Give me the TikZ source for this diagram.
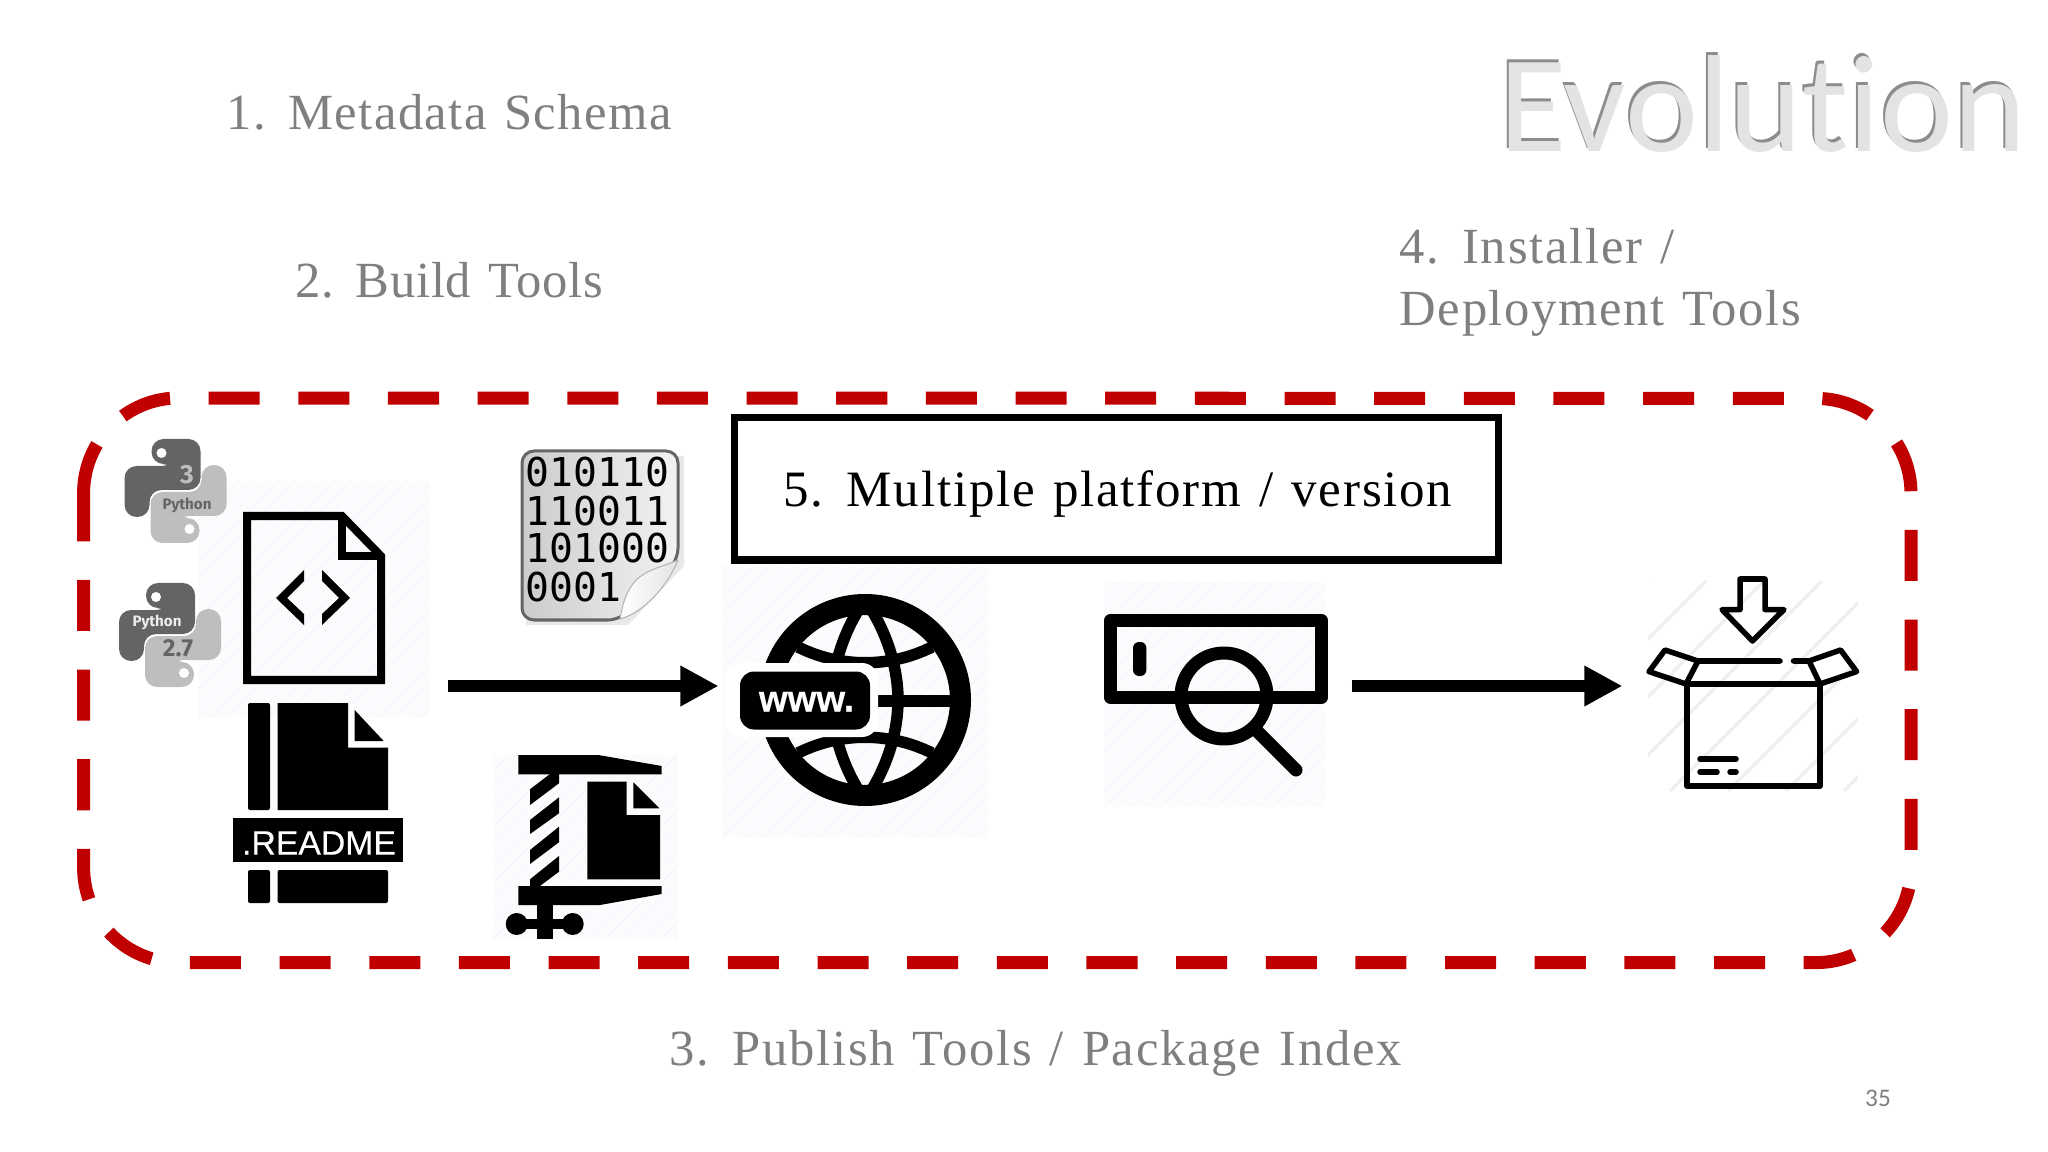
\documentclass[tikz,border=0pt]{standalone}
\usepackage{fontspec}
\setmainfont[WordSpace=1.25,LetterSpace=3.5]{Liberation Serif}
\newfontfamily\titlefont[Ligatures=NoCommon]{Carlito}
\newfontfamily\bitfont{DejaVu Sans Mono}
\newfontfamily\pyfont{Fira Sans}
\newfontfamily\readmefont[FakeBold=0.4]{Liberation Sans}
\usetikzlibrary{arrows.meta, positioning, calc}

\definecolor{dashred}{HTML}{C00000}
\definecolor{labelgray}{HTML}{7F7F7F}
\definecolor{pydark}{HTML}{646464}
\definecolor{pylight}{HTML}{BEBEBE}
\definecolor{palefill}{HTML}{FCFBFD}
\definecolor{palehatch}{HTML}{F5F4F8}
\definecolor{boxhatch}{HTML}{EFEEF3}

\tikzset{
  slidetext/.style={font=\fontsize{14.4}{17}\selectfont, text=labelgray, inner sep=0pt, anchor=base west},
  bitline/.style={font=\bitfont\fontsize{11.3}{13}\selectfont, inner sep=0pt, anchor=base west},
  bigarrow/.style={line width=0.126cm, -{Triangle[length=0.38cm,width=0.38cm]}},
  iconline/.style={line width=0.055cm, line cap=round, line join=round},
  pics/pysnake/.style={code={
    \fill[#1, rounded corners=0.12cm] (-24,-27) -- (-24,-52) -- (25,-52) -- (25,-1) -- (-26,-1) -- (-26,26) -- (-51,26) -- (-51,-25) -- (-1,-25) -- (-1,-27) -- cycle;
    \fill[white] (-14,-38) circle (5);
  }}
}

\begin{document}
\begin{tikzpicture}[x=0.01cm, y=-0.01cm, line join=round]
  \useasboundingbox (0,0) rectangle (2048,1152);

  % faint backgrounds behind the icons
  \foreach \xa/\ya/\xb/\yb in {198/481/430/717, 493/755/678/939, 722/567/988/837, 1104/582/1325/807}{
    \begin{scope}
      \clip (\xa,\ya) rectangle (\xb,\yb);
      \fill[palefill] (\xa,\ya) rectangle (\xb,\yb);
      \foreach \k in {0,14,...,560}
        \draw[palehatch, line width=0.01cm] (\xa-280+\k,\yb) -- ++(280,-280);
    \end{scope}
  }
  \begin{scope}
    \clip (1648,579) rectangle (1858,791);
    \foreach \k in {0,58,...,464}
      \draw[boxhatch, line width=0.035cm] (1648-210+\k,791) -- ++(210,-210);
  \end{scope}

  % title, pressed into the slide
  \node[inner sep=0pt, anchor=base west, font=\titlefont\fontsize{39.3}{44}\selectfont, text=gray!90] (titleShade) at (1497,149) {Evolution};
  \node[inner sep=0pt, anchor=base west, font=\titlefont\fontsize{39.3}{44}\selectfont, text=gray!22] (titleFace) at (1499,152) {Evolution};

  \node[slidetext] (metaLabel) at (226,130) {\addfontfeature{LetterSpace=2.8}1. Metadata Schema};
  \node[slidetext] (buildLabel) at (295,298) {\addfontfeature{LetterSpace=1.5}2. Build Tools};
  \node[slidetext] (installLabel) at (1399,264) {4. Installer /};
  \node[slidetext] (deployLabel) at (1399,326) {\addfontfeature{LetterSpace=3.2}Deployment Tools};
  \node[slidetext] (publishLabel) at (669,1065) {3. Publish Tools / Package Index};
  \node[inner sep=0pt, text=labelgray, font=\titlefont\fontsize{7.2}{9}\selectfont] (pageNo) at (1878,1098) {35};

  % red frame
  \draw[dashred, line width=0.13cm, dash pattern=on 0.51cm off 0.386cm]
    (83.6,493) arc[start angle=180, end angle=270, radius=95] -- (1816,398.4)
    arc[start angle=270, end angle=360, radius=95] -- (1911,867.6)
    arc[start angle=0, end angle=90, radius=95] -- (178.6,962.6)
    arc[start angle=90, end angle=180, radius=95] -- cycle;

  % platform box
  \draw[line width=0.07cm, line join=miter] (734.5,417.5) rectangle (1498,560);
  \node[slidetext, text=black, font=\fontsize{14.5}{17}\selectfont] (platformLabel) at (783,507) {5. Multiple platform / version};

  % python logos
  \pic at (175.5,491) {pysnake=pydark};
  \pic[rotate=180] at (175.5,491) {pysnake=pylight};
  \node[inner sep=0pt, text=pylight, font=\pyfont\bfseries\fontsize{7.5}{9}\selectfont] (pyThree) at (187,475) {3};
  \node[inner sep=0pt, text=pydark, font=\pyfont\bfseries\fontsize{4.3}{6}\selectfont] (pyThreeName) at (187,505) {Python};
  \pic at (170,635) {pysnake=pydark};
  \pic[rotate=180] at (170,635) {pysnake=pylight};
  \node[inner sep=0pt, text=white!85!gray, font=\pyfont\bfseries\fontsize{4.3}{6}\selectfont] (pyTwoName) at (157,622) {Python};
  \node[inner sep=0pt, text=pydark, font=\pyfont\bfseries\fontsize{7}{9}\selectfont] (pyTwo) at (178,648) {2.7};

  % code file
  \draw[line width=0.08cm, line join=miter] (247,516) -- (342,516) -- (381,556) -- (381,680) -- (247,680) -- cycle;
  \draw[line width=0.08cm, line join=miter] (342,516) -- (342,556) -- (381,556);
  \fill (304,570) -- (276,598) -- (304,625) -- (304,614) -- (287,598) -- (304,581) -- cycle;
  \fill (322,570) -- (350,598) -- (322,625) -- (322,614) -- (339,598) -- (322,581) -- cycle;

  % readme file
  \fill[rounded corners=0.02cm] (248,703) rectangle (270,810);
  \fill (277.5,703) -- (348,703) -- (348,747.5) -- (388,747.5) -- (388,810) -- (277.5,810) -- cycle;
  \fill (354.6,710) -- (383.7,741) -- (354.6,741) -- cycle;
  \fill (233,818) rectangle (403,862);
  \node[inner sep=0pt, text=white, font=\readmefont\fontsize{9.6}{12}\selectfont] (readmeLabel) at (319,843) {.README};
  \fill[rounded corners=0.02cm] (248,870) rectangle (270,903);
  \fill[rounded corners=0.02cm] (277.5,870) rectangle (388,903);

  % binary file
  \fill[gray!18] (526,456) -- (684,456) -- (684,566) -- (628,625) -- (526,625) -- cycle;
  \shade[left color=gray!40, right color=gray!10, draw=gray!80!black, line width=0.03cm, rounded corners=0.12cm]
    (522,451) -- (678,451) -- (678,560) -- (620,620) -- (522,620) -- cycle;
  \node[bitline] (bitsA) at (525,487) {010110};
  \node[bitline] (bitsB) at (525,525) {110011};
  \node[bitline] (bitsC) at (525,563) {101000};
  \node[bitline] (bitsD) at (525,601) {0001};
  \shade[left color=white, right color=gray!22, draw=gray!60, line width=0.01cm]
    (678,560) .. controls (650,572) and (628,570) .. (620,619) .. controls (645,612) and (668,585) .. (678,560);

  % clamp
  \fill (518.3,755) -- (598.3,755) -- (661.7,766) -- (661.7,774.3) -- (518.3,774.3) -- cycle;
  \fill (518.3,886) -- (661.7,886) -- (661.7,894) -- (600,905) -- (518.3,905) -- cycle;
  \fill (550,774) -- (530,789.3) -- (530,805) -- (559,783.3) -- (559,774) -- cycle;
  \fill (530,820) -- (559,797.3) -- (559,813.3) -- (530,834) -- cycle;
  \fill (530,850) -- (559,826.7) -- (559,842.3) -- (530,864) -- cycle;
  \fill (530,879.3) -- (559,856) -- (559,871.7) -- (540,886) -- (530,886) -- cycle;
  \fill (587.3,781.7) -- (626.7,781.7) -- (626.7,815) -- (660,815) -- (660,879.3) -- (587.3,879.3) -- cycle;
  \fill (633.3,782.3) -- (659.3,808.3) -- (633.3,808.3) -- cycle;
  \fill (536.7,905) rectangle (552.7,939);
  \fill (516.7,919) rectangle (572.7,929);
  \fill (516.7,924) circle (11);
  \fill (572.7,924) circle (11);

  % globe
  \draw[line width=0.21cm] (865,700) circle (95.5);
  \begin{scope}[line width=0.115cm]
    \draw (865,600) .. controls (885,628) and (898,665) .. (898,700) .. controls (898,735) and (885,772) .. (865,800);
    \draw (865,600) .. controls (845,628) and (832,665) .. (832,700) .. controls (832,735) and (845,772) .. (865,800);
    \draw (798,647) .. controls (840,668) and (890,668) .. (932,647);
    \draw (798,753) .. controls (840,732) and (890,732) .. (932,753);
    \draw (878,701) -- (950,701);
  \end{scope}
  \fill[white, rounded corners=0.16cm] (725,663) rectangle (878,737);
  \fill[rounded corners=0.14cm] (740,671.5) rectangle (870,729.5);
  \node[inner sep=0pt, anchor=base, text=white, font=\readmefont\bfseries\fontsize{10.5}{12}\selectfont] (webLabel) at (806.5,711.5) {www.};

  % search bar
  \draw[line width=0.13cm] (1110.5,620.5) rectangle (1321.5,697.5);
  \fill[rounded corners=0.06cm] (1133,642) rectangle (1146.4,676);
  \draw[line width=0.13cm] (1224,696) circle (43);
  \draw[line width=0.13cm, line cap=round] (1258,732) -- (1296,770);

  % open box
  \draw[iconline] (1687,684) -- (1820,684) -- (1820,786) -- (1687,786) -- cycle;
  \draw[iconline] (1686,684) -- (1698,661) -- (1780,661);
  \draw[iconline] (1793.5,661) -- (1809,661) -- (1820,684);
  \draw[iconline] (1698,661) -- (1665,650) -- (1649,671.6) -- (1686,684);
  \draw[iconline] (1809,661) -- (1840.6,650) -- (1856.6,671.6) -- (1820,684);
  \draw[iconline] (1700,759) -- (1736,759);
  \draw[iconline] (1700,772) -- (1717,772);
  \draw[iconline] (1730,772) -- (1736,772);
  \draw[iconline] (1740,579) -- (1765,579) -- (1765,609.6) -- (1784,609.6) -- (1752.5,641) -- (1722,609.6) -- (1740,609.6) -- cycle;

  % flow arrows
  \coordinate (buildOut) at (448.4,686);
  \coordinate (webIn) at (718.5,686);
  \coordinate (searchOut) at (1351.5,686);
  \coordinate (boxIn) at (1622.4,686);
  \draw[bigarrow] (buildOut) -- (webIn);
  \draw[bigarrow] (searchOut) -- (boxIn);
\end{tikzpicture}
\end{document}
